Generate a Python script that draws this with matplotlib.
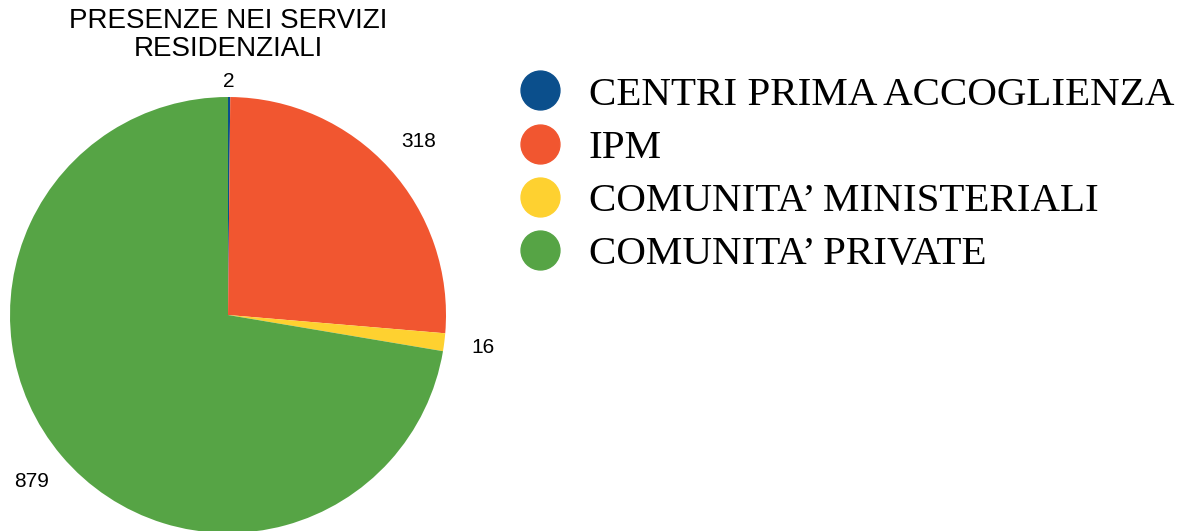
import matplotlib
matplotlib.use('Agg')
import matplotlib.pyplot as plt
from matplotlib.lines import Line2D

# Data
categories = ['CENTRI PRIMA ACCOGLIENZA', 'IPM', "COMUNITA’ MINISTERIALI", "COMUNITA’ PRIVATE"]
values = [2, 318, 16, 879]
colors = ['#0b4f8c', '#f15630', '#fed130', '#56a445']
title = 'PRESENZE NEI SERVIZI\nRESIDENZIALI'

W, H = 1189, 531
fig = plt.figure(figsize=(W / 100, H / 100), dpi=100)

# pie axes: centre at (228, 315) px, radius 218 px
r_px = 218
lim = 1.3
side = 2 * lim * r_px
cx, cy = 228, H - 315
ax = fig.add_axes([(cx - side / 2) / W, (cy - side / 2) / H, side / W, side / H])

wedges, texts = ax.pie(values, colors=colors, startangle=90, counterclock=False,
                       labels=[str(v) for v in values], labeldistance=1.18,
                       textprops={'fontsize': 15, 'family': 'Liberation Sans'},
                       wedgeprops={'linewidth': 0})
for t in texts:
    t.set_ha('center')
    t.set_va('center')
# small slice label sits closer
x0, y0 = texts[0].get_position()
texts[0].set_position((x0 * 1.07 / 1.18, y0 * 1.07 / 1.18))
ax.set_xlim(-lim, lim)
ax.set_ylim(-lim, lim)
ax.set_aspect('equal')

fig.text(228 / W, 1 - 8 / H, title, ha='center', va='top', fontsize=20,
         family='Liberation Sans', linespacing=1.08)

handles = [Line2D([], [], marker='o', linestyle='', markersize=28, color=c) for c in colors]
fig.legend(handles, categories, loc='upper left', bbox_to_anchor=(515 / W, 1 - 76 / H),
           frameon=False, prop={'family': 'Liberation Serif', 'size': 29.5},
           handletextpad=0.6, labelspacing=0.38, borderpad=0, borderaxespad=0,
           handlelength=1.2)

fig.savefig('out.png', dpi=100)
